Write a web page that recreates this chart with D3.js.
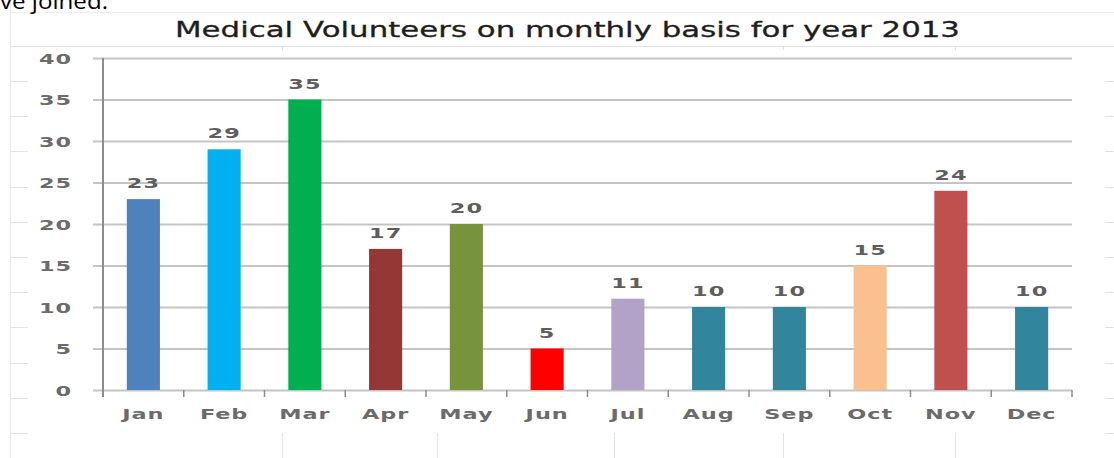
<!DOCTYPE html>
<html>
<head>
<meta charset="utf-8">
<script src="https://cdn.jsdelivr.net/npm/d3@7"></script>
<style>
  body { margin: 0; background: #fff; }
  svg { display: block; }
</style>
</head>
<body>
<div id="chart"></div>
<script>
// data
var months = ["Jan", "Feb", "Mar", "Apr", "May", "Jun", "Jul", "Aug", "Sep", "Oct", "Nov", "Dec"];
var volunteers = [23, 29, 35, 17, 20, 5, 11, 10, 10, 15, 24, 10];
var yTickValues = [0, 5, 10, 15, 20, 25, 30, 35, 40];
var barColors = ["#4f81bd", "#00b0f0", "#00b050", "#953735", "#77933c", "#ff0000",
                 "#b3a2c7", "#31859c", "#31859c", "#fac090", "#c0504d", "#31859c"];

var width = 1114, height = 458;
var plot = {left: 103, right: 1072, top: 58, bottom: 390};
var stretch = 1.6; // the picture is squashed wide, so are its labels
var labelFont = "DejaVu Sans, Verdana, sans-serif";

var svg = d3.select("#chart")
    .append("svg")
    .attr("width", width)
    .attr("height", height);

// spreadsheet cells behind the chart
var sheet = svg.append("g")
    .attr("stroke", "#e2e2e2")
    .attr("stroke-width", 1)
    .attr("fill", "none");
sheet.append("line").attr("x1", 10.5).attr("y1", 0).attr("x2", 10.5).attr("y2", height).attr("stroke", "#e8e8e8");
sheet.append("line").attr("x1", 10).attr("y1", 12.5).attr("x2", width).attr("y2", 12.5).attr("stroke", "#ededed");
sheet.append("line").attr("x1", 10).attr("y1", 46.5).attr("x2", width).attr("y2", 46.5);
var rowLines = d3.range(0, 11).map(function(i) { return Math.round(81 + i * 35.2) + 0.5; });
sheet.selectAll("line.rowl").data(rowLines).enter().append("line")
    .attr("class", "rowl")
    .attr("x1", 10).attr("x2", 28).attr("y1", function(d) { return d; }).attr("y2", function(d) { return d; });
sheet.selectAll("line.rowr").data(rowLines).enter().append("line")
    .attr("class", "rowr")
    .attr("x1", 1105).attr("x2", width).attr("y1", function(d) { return d; }).attr("y2", function(d) { return d; });
var colLines = [282.5, 437.5, 614.5, 783.5, 955.5];
sheet.selectAll("line.colb").data(colLines).enter().append("line")
    .attr("class", "colb")
    .attr("x1", function(d) { return d; }).attr("x2", function(d) { return d; })
    .attr("y1", 433).attr("y2", height);
sheet.selectAll("line.colt").data([282.5, 783.5, 955.5]).enter().append("line")
    .attr("class", "colt")
    .attr("x1", function(d) { return d; }).attr("x2", function(d) { return d; })
    .attr("y1", 46).attr("y2", 50);

// leftover of the text above the chart, cut by the crop like in the source
svg.append("text")
    .attr("x", 0)
    .attr("y", 9)
    .attr("font-family", "Open Sans, Liberation Sans, sans-serif")
    .attr("font-size", 22)
    .attr("fill", "#000")
    .attr("textLength", 108)
    .attr("lengthAdjust", "spacingAndGlyphs")
    .text("ve joined.");

// title
svg.append("text")
    .attr("x", 175)
    .attr("y", 37)
    .attr("font-family", labelFont)
    .attr("font-size", 22)
    .attr("fill", "#1e1e1e")
    .attr("stroke", "#1e1e1e")
    .attr("stroke-width", 0.3)
    .attr("textLength", 785)
    .attr("lengthAdjust", "spacingAndGlyphs")
    .text("Medical Volunteers on monthly basis for year 2013");

var x = d3.scaleBand()
    .domain(months)
    .range([plot.left, plot.right])
    .paddingInner(0.59)
    .paddingOuter(0.295);

var y = d3.scaleLinear()
    .domain([0, 40])
    .range([plot.bottom, plot.top]);

// gridlines
svg.append("g")
    .attr("transform", "translate(" + (plot.left - 10) + ",0)")
    .call(d3.axisLeft(y).tickValues(yTickValues).tickSize(-(plot.right - plot.left + 10)).tickFormat(""))
    .call(function(g) { g.select(".domain").remove(); })
    .call(function(g) { g.selectAll(".tick line").attr("stroke", "#c4c4c4").attr("stroke-width", 2); });

// y axis line
svg.append("line")
    .attr("x1", plot.left).attr("x2", plot.left)
    .attr("y1", plot.top).attr("y2", plot.bottom + 7)
    .attr("stroke", "#8c8c8c")
    .attr("stroke-width", 2);

// category boundary ticks
var step = x.step();
var bounds = months.map(function(m) { return x(m) + x.bandwidth() / 2 - step / 2; });
bounds.push(plot.right);
svg.selectAll("line.xtick").data(bounds).enter().append("line")
    .attr("class", "xtick")
    .attr("x1", function(d) { return d; }).attr("x2", function(d) { return d; })
    .attr("y1", plot.bottom).attr("y2", plot.bottom + 7)
    .attr("stroke", "#8c8c8c")
    .attr("stroke-width", 1.5);

// y labels
svg.selectAll("text.ylab").data(yTickValues).enter().append("text")
    .attr("class", "ylab")
    .attr("transform", function(d) { return "translate(72," + (y(d) + 5.5) + ") scale(" + stretch + ",1)"; })
    .attr("text-anchor", "end")
    .attr("font-family", labelFont)
    .attr("font-size", 14)
    .attr("font-weight", "bold")
    .attr("letter-spacing", 0.6)
    .attr("fill", "#6b6b6b")
    .text(function(d) { return d; });

// bars
svg.selectAll("rect.bar").data(volunteers).enter().append("rect")
    .attr("class", "bar")
    .attr("x", function(d, i) { return x(months[i]); })
    .attr("y", function(d) { return y(d); })
    .attr("width", x.bandwidth())
    .attr("height", function(d) { return y(0) - y(d); })
    .attr("fill", function(d, i) { return barColors[i]; });

// value labels
svg.selectAll("text.vlab").data(volunteers).enter().append("text")
    .attr("class", "vlab")
    .attr("transform", function(d, i) {
        return "translate(" + (x(months[i]) + x.bandwidth() / 2) + "," + (y(d) - 11) + ") scale(" + stretch + ",1)";
    })
    .attr("text-anchor", "middle")
    .attr("font-family", labelFont)
    .attr("font-size", 14)
    .attr("font-weight", "bold")
    .attr("letter-spacing", 0.6)
    .attr("fill", "#5e5e5e")
    .text(function(d) { return d; });

// month labels
svg.selectAll("text.xlab").data(months).enter().append("text")
    .attr("class", "xlab")
    .attr("transform", function(d) {
        return "translate(" + (x(d) + x.bandwidth() / 2) + "," + (plot.bottom + 29) + ") scale(" + stretch + ",1)";
    })
    .attr("text-anchor", "middle")
    .attr("font-family", labelFont)
    .attr("font-size", 14)
    .attr("font-weight", "bold")
    .attr("letter-spacing", 0.6)
    .attr("fill", "#6b6b6b")
    .text(function(d) { return d; });
</script>
</body>
</html>
